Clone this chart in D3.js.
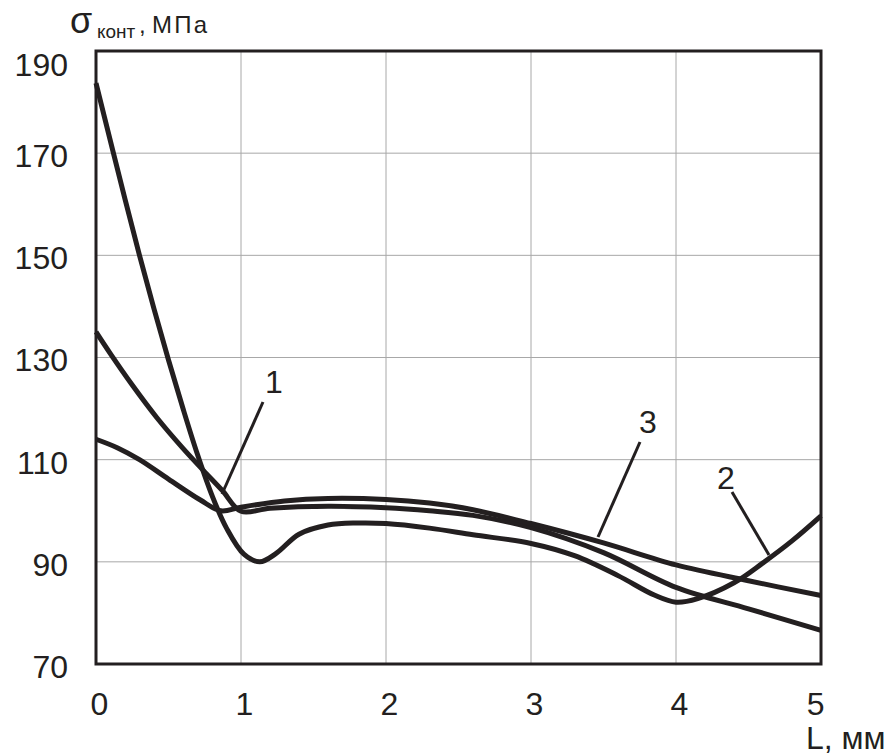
<!DOCTYPE html>
<html>
<head>
<meta charset="utf-8">
<script src="https://cdn.jsdelivr.net/npm/d3@7"></script>
<style>
  html, body { margin: 0; padding: 0; background: #fff; }
  svg { display: block; font-family: "Liberation Sans", Arial, sans-serif; }
</style>
</head>
<body>
<svg id="chart" width="893" height="755"></svg>
<script>
// Contact stress along the contact length for three variants
const xTicks = [0, 1, 2, 3, 4, 5];
const yTicks = [70, 90, 110, 130, 150, 170, 190];

// Curve 1
const len1 = [0, 0.1, 0.25, 0.42, 0.6, 0.74, 0.87, 1.0, 1.2, 1.6, 2.0, 2.3, 2.6, 3.0, 3.5, 4.0, 4.5, 5.0];
const stress1 = [135, 130.7, 124.6, 118.2, 112.2, 107.9, 104, 99.9, 100.5, 100.9, 100.6, 100, 99.1, 96.7, 91.8, 85, 80.8, 76.6];

// Curve 2
const len2 = [0, 0.1, 0.2, 0.3, 0.4, 0.5, 0.6, 0.7, 0.8, 0.9, 1.02, 1.13, 1.24, 1.4, 1.6, 1.8, 2.0, 2.3, 2.6, 3.0, 3.3, 3.6, 3.85, 4.0, 4.15, 4.4, 4.6, 4.8, 5.0];
const stress2 = [183.7, 172.3, 161, 150, 139.5, 129.5, 120, 111, 103, 96.6, 91.5, 90, 91.6, 95.4, 97.2, 97.6, 97.5, 96.6, 95.3, 93.6, 91.2, 87.3, 83.5, 82.1, 82.8, 85.9, 89.8, 94.1, 99];

// Curve 3
const len3 = [0, 0.15, 0.3, 0.5, 0.72, 0.86, 1.0, 1.3, 1.6, 2.0, 2.3, 2.6, 3.0, 3.5, 4.0, 4.5, 5.0];
const stress3 = [114, 112.3, 110, 106.2, 102.1, 100, 100.7, 101.9, 102.4, 102.2, 101.5, 100.2, 97.5, 93.7, 89.4, 86.3, 83.4];

const curveNames = ["1", "2", "3"];

const ink = "#231f20";
const svg = d3.select("#chart");

const x = d3.scaleLinear().domain([0, 5]).range([96, 821]);
const y = d3.scaleLinear().domain([70, 190]).range([664, 51]);

// grid
const grid = svg.append("g");
grid.selectAll("line.v").data(xTicks.slice(1, -1)).join("line")
  .attr("x1", d => x(d)).attr("x2", d => x(d))
  .attr("y1", y(190)).attr("y2", y(70))
  .attr("stroke", "#a8a8a8").attr("stroke-width", 1);
grid.selectAll("line.h").data(yTicks.slice(1, -1)).join("line")
  .attr("x1", x(0)).attr("x2", x(5))
  .attr("y1", d => y(d)).attr("y2", d => y(d))
  .attr("stroke", "#a8a8a8").attr("stroke-width", 1);

// curves
const line = d3.line()
  .x(d => x(d[0])).y(d => y(d[1]))
  .curve(d3.curveCatmullRom.alpha(0.5));

const series = [
  d3.zip(len1, stress1),
  d3.zip(len2, stress2),
  d3.zip(len3, stress3)
];

svg.append("g").selectAll("path").data(series).join("path")
  .attr("d", line)
  .attr("fill", "none")
  .attr("stroke", ink)
  .attr("stroke-width", 5)
  .attr("stroke-linejoin", "round")
  .attr("stroke-linecap", "butt");

// frame
svg.append("rect")
  .attr("x", x(0)).attr("y", y(190))
  .attr("width", x(5) - x(0)).attr("height", y(70) - y(190))
  .attr("fill", "none").attr("stroke", ink).attr("stroke-width", 3);

// axes tick labels
const yAxis = d3.axisLeft(y).tickValues(yTicks).tickFormat(d3.format("d")).tickSize(0).tickPadding(0);
const gy = svg.append("g").attr("transform", "translate(68,0)").call(yAxis);
gy.select(".domain").remove();
gy.selectAll("text")
  .attr("font-size", 32).attr("fill", ink)
  .attr("font-family", "Liberation Sans, Arial, sans-serif")
  .attr("dy", d => d === 190 ? "0.75em" : "0.42em");

const xAxis = d3.axisBottom(x).tickValues(xTicks).tickFormat(d3.format("d")).tickSize(0).tickPadding(0);
const gx = svg.append("g").attr("transform", "translate(3,692)").call(xAxis);
gx.select(".domain").remove();
gx.selectAll("text")
  .attr("font-size", 32).attr("fill", ink)
  .attr("font-family", "Liberation Sans, Arial, sans-serif")
  .attr("dy", "0.71em")
  .attr("text-anchor", d => d === 5 ? "end" : "middle");

// axis titles
const yTitle = svg.append("text").attr("fill", ink)
  .attr("font-family", "Liberation Sans, Arial, sans-serif");
yTitle.append("tspan").attr("x", 70).attr("y", 33).attr("font-size", 36).text("σ");
yTitle.append("tspan").attr("x", 97).attr("y", 38).attr("font-size", 19).text("конт");
yTitle.append("tspan").attr("x", 139).attr("y", 33).attr("font-size", 24).text(",");
yTitle.append("tspan").attr("x", 152).attr("y", 33).attr("font-size", 24)
  .attr("textLength", 55).text("МПа");

svg.append("text").attr("x", 806).attr("y", 749)
  .attr("font-size", 32).attr("fill", ink)
  .attr("font-family", "Liberation Sans, Arial, sans-serif")
  .text("L, мм");

// curve labels with leader lines
const labels = [
  { name: curveNames[0], tx: 274, ty: 393, x1: 263, y1: 402, x2: 222, y2: 494 },
  { name: curveNames[1], tx: 726, ty: 489, x1: 732, y1: 492, x2: 769, y2: 555 },
  { name: curveNames[2], tx: 648, ty: 433, x1: 640, y1: 442, x2: 598, y2: 537 }
];
const lg = svg.append("g");
lg.selectAll("line").data(labels).join("line")
  .attr("x1", d => d.x1).attr("y1", d => d.y1)
  .attr("x2", d => d.x2).attr("y2", d => d.y2)
  .attr("stroke", ink).attr("stroke-width", 3);
lg.selectAll("text").data(labels).join("text")
  .attr("x", d => d.tx).attr("y", d => d.ty)
  .attr("text-anchor", "middle")
  .attr("font-size", 32).attr("fill", ink)
  .attr("font-family", "Liberation Sans, Arial, sans-serif")
  .text(d => d.name);
</script>
</body>
</html>
